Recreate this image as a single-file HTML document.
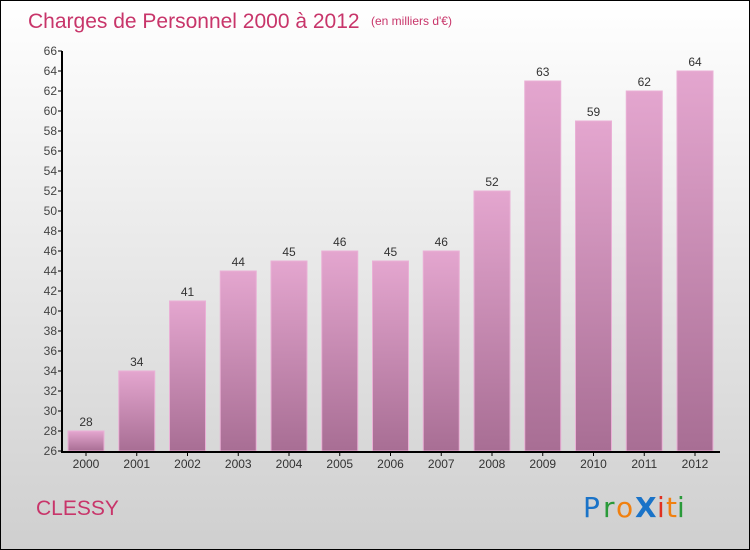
<!DOCTYPE html>
<html><head><meta charset="utf-8"><style>
body{margin:0}
#c{width:748px;height:548px;border:1px solid #000;background:linear-gradient(#ffffff,#cfcfcf);position:relative;overflow:hidden;font-family:"Liberation Sans",sans-serif}
</style></head><body>
<div id="c">
<svg id="s" width="748" height="548">
<defs><linearGradient id="bg" x1="0" y1="0" x2="0" y2="1"><stop offset="0" stop-color="#e4a6cf"/><stop offset="1" stop-color="#a86e94"/></linearGradient></defs>
<text x="27" y="27" font-size="21" fill="#c8356a">Charges de Personnel 2000 à 2012</text>
<text x="370" y="24" font-size="12" fill="#c8356a">(en milliers d'€)</text>
<text x="35" y="514" font-size="21" fill="#c8356a">CLESSY</text>
<g font-size="28" font-family="'DejaVu Sans',sans-serif">
<text x="582" y="516" fill="#1a73c8">P</text><text x="602" y="516" fill="#2a9a3a">r</text><text x="615" y="516" fill="#f08010">o</text><text x="634" y="516" fill="#1a73c8" font-weight="bold">X</text><text x="656" y="516" fill="#e03020">i</text><text x="665" y="516" fill="#f08010">t</text><text x="676" y="516" fill="#2a9a3a">i</text>
</g>
<g id="plot"></g>
</svg></div>
<script>
const categories=["2000","2001","2002","2003","2004","2005","2006","2007","2008","2009","2010","2011","2012"];
const values=[28,34,41,44,45,46,45,46,52,63,59,62,64];
const yMin=26,yMax=66,yStep=2;
const ns="http://www.w3.org/2000/svg";
const g=document.getElementById('plot');
const y=v=>450-(v-yMin)*10;
const x=i=>85+i*50.75;
function mk(t,a){const e=document.createElementNS(ns,t);for(const k in a)e.setAttribute(k,a[k]);g.appendChild(e);return e;}
for(let v=yMin;v<=yMax;v+=yStep){
 const l=mk('line',{x1:57,x2:61,y1:y(v),y2:y(v),stroke:'#000'});
 
 const t=mk('text',{x:56,y:y(v)+4,'font-size':12,'text-anchor':'end',fill:'#444'});t.textContent=v;
 
}
values.forEach((v,i)=>{
 const r=mk('rect',{x:x(i)-18,y:y(v),width:36,height:y(yMin)-y(v),fill:'url(#bg)',stroke:'#eab0d6','stroke-width':1});
 
 const t=mk('text',{x:x(i),y:y(v)-5,'font-size':12,'text-anchor':'middle',fill:'#333'});t.textContent=v;
 
 const tk=mk('line',{x1:x(i),x2:x(i),y1:450,y2:455,stroke:'#000'});
 
 const c=mk('text',{x:x(i),y:467,'font-size':12,'text-anchor':'middle',fill:'#333'});c.textContent=categories[i];
 
});
const ya=mk('line',{x1:61,x2:61,y1:y(yMax),y2:451,stroke:'#000','stroke-width':2});

const xa=mk('line',{x1:60,x2:719,y1:451,y2:451,stroke:'#000','stroke-width':2});

</script>
</body></html>
